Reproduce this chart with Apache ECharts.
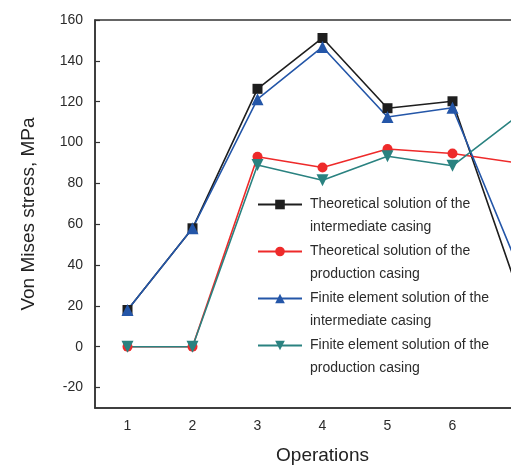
<!DOCTYPE html>
<html>
<head>
<meta charset="utf-8">
<script src="https://cdn.jsdelivr.net/npm/echarts@6/dist/echarts.min.js"></script>
<style>html,body{margin:0;padding:0;background:#fff}#c{width:511px;height:465px}</style>
</head>
<body>
<div id="c"></div>
<script>
var categories = ['1', '2', '3', '4', '5', '6', '7'];
var yTickValues = [-20, 0, 20, 40, 60, 80, 100, 120, 140, 160];
var theoIntermediate = [18, 58, 126.3, 151.2, 116.8, 120.2, 28];
var theoProduction = [0, 0, 93, 87.8, 96.8, 94.6, 90];
var feIntermediate = [18, 58, 121.2, 146.8, 112.5, 117, 40];
var feProduction = [0, 0, 89, 81.5, 93.3, 88.6, 113];
var seriesNames = [
  'Theoretical solution of the\nintermediate casing',
  'Theoretical solution of the\nproduction casing',
  'Finite element solution of the\nintermediate casing',
  'Finite element solution of the\nproduction casing'
];

var font = '"Liberation Sans", Arial, Helvetica, sans-serif';
var chart = echarts.init(document.getElementById('c'), null, {renderer: 'canvas'});

function mk(name, data, color, symbol, size) {
  return {
    name: name, type: 'line', data: data, symbol: symbol, symbolSize: size,
    lineStyle: {color: color, width: 1.6}, itemStyle: {color: color},
    emphasis: {disabled: true}, animation: false
  };
}

chart.setOption({
  animation: false,
  backgroundColor: '#fff',
  textStyle: {fontFamily: font},
  grid: {left: 95, top: 20, width: 455, bottom: 57, outerBoundsMode: 'none', containLabel: false,
         show: true, borderColor: '#333', borderWidth: 1.5, backgroundColor: 'transparent'},
  legend: {
    orient: 'vertical', left: 257, top: 170, padding: 0, itemWidth: 44, itemHeight: 12, itemGap: -22,
    formatter: function (name) { return ' \n' + name; },
    textStyle: {fontFamily: font, fontSize: 14, color: '#2b2b2b', lineHeight: 23, padding: [0, 0, 0, 3]},
    data: seriesNames
  },
  xAxis: {
    type: 'category', data: categories, boundaryGap: true,
    name: 'Operations', nameLocation: 'middle', nameGap: 38,
    nameTextStyle: {fontFamily: font, fontSize: 19, color: '#222'},
    axisLine: {onZero: false, lineStyle: {color: '#333', width: 1.5}},
    axisTick: {alignWithLabel: true, inside: true, length: 6, lineStyle: {color: '#333', width: 1.2}},
    axisLabel: {fontFamily: font, fontSize: 14, color: '#2b2b2b', margin: 11},
    splitLine: {show: false}
  },
  yAxis: {
    type: 'value', min: -30, max: 160,
    name: 'Von Mises stress, MPa', nameLocation: 'middle', nameGap: 57, nameRotate: 90,
    nameTextStyle: {fontFamily: font, fontSize: 19, color: '#222'},
    axisLine: {show: true, onZero: false, lineStyle: {color: '#333', width: 1.5}},
    axisTick: {show: true, inside: true, length: 5, customValues: yTickValues, lineStyle: {color: '#333', width: 1.2}},
    axisLabel: {fontFamily: font, fontSize: 14, color: '#2b2b2b', margin: 12, customValues: yTickValues},
    splitLine: {show: false}
  },
  series: [
    mk(seriesNames[0], theoIntermediate, '#1e1e1e', 'rect', 10),
    mk(seriesNames[1], theoProduction, '#ee2a2a', 'circle', 10),
    mk(seriesNames[2], feIntermediate, '#2456a8', 'triangle', 12),
    mk(seriesNames[3], feProduction, '#2a8280', 'path://M0,0 L10,0 L5,9 Z', 12)
  ]
});
</script>
</body>
</html>
